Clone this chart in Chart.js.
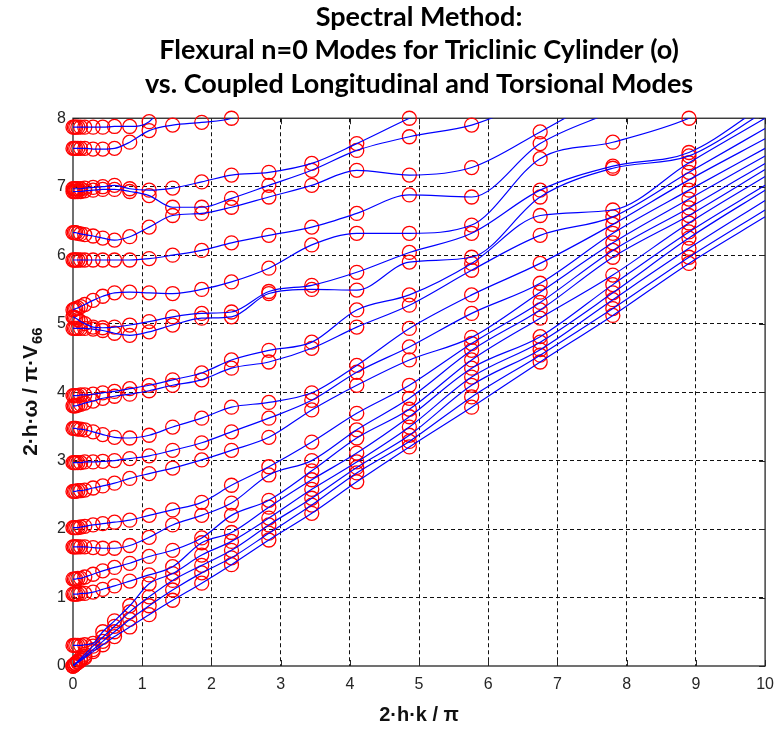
<!DOCTYPE html>
<html><head><meta charset="utf-8">
<script src="https://cdn.jsdelivr.net/npm/chart.js@4.4.1/dist/chart.umd.min.js"></script>
<style>html,body{margin:0;padding:0;background:#fff}#wrap{width:783px;height:731px;position:relative}</style>
</head><body><div id="wrap"><canvas id="c" width="783" height="731"></canvas></div>
<script>
// wavenumber samples (2hk/pi) at which the modes were read
const K = [0, 0.02, 0.04, 0.07, 0.11, 0.17, 0.29, 0.43, 0.6, 0.82, 1.1, 1.44, 1.86, 2.29, 2.83, 3.45, 4.1, 4.86, 5.76, 6.75, 7.8, 8.9, 10];
// branch frequencies (2h omega / pi V66), sorted branches, null after leaving the plot
const b1  = [0, 0.015, 0.03, 0.05, 0.08, 0.12, 0.21, 0.31, 0.43, 0.57, 0.75, 0.96, 1.21, 1.48, 1.84, 2.23, 2.69, 3.2, 3.78, 4.44, 5.12, 5.88, 6.56];
const b2  = [0, 0.017, 0.034, 0.06, 0.09, 0.14, 0.24, 0.36, 0.5, 0.68, 0.88, 1.11, 1.36, 1.58, 1.94, 2.35, 2.82, 3.28, 3.93, 4.54, 5.22, 5.97, 6.66];
const b3  = [0, 0.02, 0.04, 0.07, 0.11, 0.17, 0.29, 0.42, 0.58, 0.79, 1.01, 1.25, 1.47, 1.69, 2.06, 2.45, 2.9, 3.37, 4.1, 4.62, 5.35, 6.1, 6.8];
const b4  = [0.3, 0.3, 0.3, 0.3, 0.3, 0.31, 0.33, 0.5, 0.66, 0.88, 1.2, 1.35, 1.62, 1.82, 2.16, 2.58, 2.98, 3.49, 4.22, 4.73, 5.45, 6.25, 6.95];
const b5  = [1.05, 1.05, 1.05, 1.05, 1.06, 1.06, 1.08, 1.12, 1.17, 1.24, 1.33, 1.45, 1.8, 1.95, 2.32, 2.72, 3.11, 3.64, 4.35, 4.81, 5.57, 6.34, 7.02];
const b6  = [1.27, 1.27, 1.27, 1.28, 1.28, 1.3, 1.34, 1.39, 1.44, 1.5, 1.6, 1.69, 1.87, 2.2, 2.42, 2.85, 3.33, 3.75, 4.47, 5.08, 5.71, 6.47, 7.15];
const b7  = [1.74, 1.74, 1.74, 1.74, 1.74, 1.74, 1.73, 1.72, 1.72, 1.76, 1.88, 2.06, 2.2, 2.38, 2.79, 3.0, 3.45, 3.91, 4.61, 5.2, 5.97, 6.58, 7.25];
const b8  = [2.02, 2.02, 2.02, 2.02, 2.03, 2.04, 2.06, 2.08, 2.1, 2.13, 2.2, 2.28, 2.39, 2.64, 2.91, 3.27, 3.69, 4.1, 4.71, 5.31, 6.07, 6.69, 7.34];
const b9  = [2.55, 2.55, 2.55, 2.56, 2.56, 2.57, 2.6, 2.63, 2.67, 2.74, 2.81, 2.89, 3.01, 3.15, 3.34, 3.74, 4.1, 4.47, 4.8, 5.46, 6.18, 6.82, 7.45];
const b10 = [2.97, 2.97, 2.97, 2.97, 2.97, 2.98, 2.98, 2.99, 3.0, 3.03, 3.07, 3.15, 3.26, 3.42, 3.62, 3.88, 4.29, 4.66, 5.15, 5.59, 6.32, 6.95, 7.56];
const b11 = [3.47, 3.47, 3.47, 3.46, 3.46, 3.45, 3.42, 3.38, 3.34, 3.33, 3.37, 3.49, 3.62, 3.78, 3.85, 3.99, 4.39, 4.93, 5.42, 5.88, 6.45, 7.1, 7.7];
const b12 = [3.8, 3.8, 3.8, 3.81, 3.82, 3.84, 3.87, 3.91, 3.94, 3.97, 4.02, 4.1, 4.18, 4.35, 4.44, 4.64, 4.95, 5.27, 5.78, 6.29, 6.56, 7.21, 7.85];
const b13 = [3.95, 3.95, 3.95, 3.95, 3.96, 3.96, 3.97, 3.99, 4.01, 4.05, 4.1, 4.18, 4.28, 4.47, 4.61, 4.73, 5.2, 5.42, 5.88, 6.58, 6.66, 7.35, 8.0];
const b14 = [4.93, 4.93, 4.93, 4.93, 4.93, 4.93, 4.92, 4.9, 4.86, 4.83, 4.88, 4.98, 5.08, 5.1, 5.44, 5.5, 5.49, 5.9, 5.97, 6.85, 7.27, 7.45, 8.1];
const b15 = [5.1, 5.09, 5.08, 5.06, 5.03, 5.0, 4.95, 4.94, 4.95, 4.98, 5.03, 5.1, 5.15, 5.17, 5.47, 5.56, 5.75, 6.04, 6.32, 6.95, 7.3, 7.5, 8.2];
const b16 = [5.2, 5.21, 5.22, 5.23, 5.25, 5.28, 5.34, 5.4, 5.45, 5.46, 5.45, 5.44, 5.5, 5.61, 5.81, 6.15, 6.32, 6.32, 6.44, 7.41, 7.65, 8.0, 8.6];
const b17 = [5.93, 5.93, 5.93, 5.93, 5.93, 5.93, 5.93, 5.93, 5.93, 5.93, 5.95, 6.0, 6.07, 6.18, 6.29, 6.41, 6.61, 6.88, 6.85, 7.63, 8.1, null, null];
const b18 = [6.33, 6.33, 6.33, 6.32, 6.31, 6.3, 6.28, 6.25, 6.22, 6.27, 6.41, 6.58, 6.61, 6.7, 6.85, 7.02, 7.24, 7.17, 7.28, 7.8, 8.4, null, null];
const b19 = [6.93, 6.93, 6.93, 6.93, 6.93, 6.94, 6.95, 6.96, 6.96, 6.93, 6.87, 6.7, 6.7, 6.83, 7.02, 7.24, 7.53, 7.73, 7.9, 8.3, null, null, null];
const b20 = [6.97, 6.97, 6.97, 6.97, 6.97, 6.98, 6.99, 7.0, 7.02, 6.97, 6.95, 6.98, 7.07, 7.17, 7.21, 7.34, 7.63, 8.0, 8.4, null, null, null, null];
const b21 = [7.56, 7.56, 7.56, 7.56, 7.56, 7.56, 7.55, 7.55, 7.56, 7.65, 7.82, 7.9, 7.94, 8.0, 8.3, null, null, null, null, null, null, null, null];
const b22 = [7.87, 7.87, 7.87, 7.87, 7.87, 7.87, 7.87, 7.87, 7.88, 7.88, 7.95, 8.4, null, null, null, null, null, null, null, null, null, null, null];
const branches = [b1,b2,b3,b4,b5,b6,b7,b8,b9,b10,b11,b12,b13,b14,b15,b16,b17,b18,b19,b20,b21,b22];
// last K index that carries a flexural-mode marker
const lastMarkerIndex = 21;
const xTicks = [0,1,2,3,4,5,6,7,8,9,10];
const yTicks = [0,1,2,3,4,5,6,7,8];
const titleLines = ['Spectral Method:', 'Flexural n=0 Modes for Triclinic Cylinder (o)', 'vs. Coupled Longitudinal and Torsional Modes'];
const xTitle = '2\u00b7h\u00b7k / \u03c0';
const yTitleMain = '2\u00b7h\u00b7\u03c9 / \u03c0\u00b7V';
const yTitleSub = '66';

const lineSets = branches.map(arr => ({
  data: K.map((x,i)=>({x, y: arr[i]})).filter(p => p.y !== null),
  showLine: true, borderColor: '#0000ff', borderWidth: 1.2, pointRadius: 0,
  cubicInterpolationMode: 'monotone', fill: false
}));
const markerSets = branches.map(arr => ({
  data: K.map((x,i)=>({x, y: arr[i], i})).filter(p => p.y !== null && p.i <= lastMarkerIndex && p.y <= 8.02),
  showLine: false, pointRadius: 7, pointBorderWidth: 1.3, pointBorderColor: '#ff0000',
  pointBackgroundColor: 'rgba(0,0,0,0)', clip: false
}));

const frame = {
  id: 'frame',
  beforeDatasetsDraw(chart) {
    const {ctx, chartArea: a, scales: {x, y}} = chart;
    ctx.save();
    ctx.setLineDash([]);
    ctx.strokeStyle = '#262626';
    ctx.lineWidth = 1;
    ctx.beginPath();
    xTicks.forEach(v => {
      const px = Math.round(x.getPixelForValue(v)) + 0.5;
      ctx.moveTo(px, a.bottom); ctx.lineTo(px, a.bottom - 6);
      ctx.moveTo(px, a.top); ctx.lineTo(px, a.top + 6);
    });
    yTicks.forEach(v => {
      const py = Math.round(y.getPixelForValue(v)) + 0.5;
      ctx.moveTo(a.left, py); ctx.lineTo(a.left + 6, py);
      ctx.moveTo(a.right, py); ctx.lineTo(a.right - 6, py);
    });
    ctx.stroke();
    ctx.lineWidth = 1.3;
    ctx.strokeRect(a.left, a.top, a.right - a.left, a.bottom - a.top);
    ctx.restore();
  },
  afterDraw(chart) {
    // y-axis title with a true subscript
    const {ctx, chartArea: a} = chart;
    ctx.save();
    ctx.translate(31, (a.top + a.bottom) / 2);
    ctx.rotate(-Math.PI / 2);
    ctx.fillStyle = '#111';
    ctx.textBaseline = 'middle';
    ctx.textAlign = 'left';
    const mainFont = 'bold 21px "Liberation Sans"';
    const subFont = 'bold 15px "Liberation Sans"';
    ctx.font = mainFont; const w1 = ctx.measureText(yTitleMain).width;
    ctx.font = subFont; const w2 = ctx.measureText(yTitleSub).width;
    const start = -(w1 + w2) / 2;
    ctx.font = mainFont; ctx.fillText(yTitleMain, start, 0);
    ctx.font = subFont; ctx.fillText(yTitleSub, start + w1 + 1, 7);
    ctx.restore();
  }
};

const gridColor = (max) => (c) => (c.tick && (c.tick.value === 0 || c.tick.value === max)) ? 'rgba(0,0,0,0)' : '#111';

new Chart(document.getElementById('c'), {
  type: 'scatter',
  data: { datasets: [...lineSets, ...markerSets] },
  options: {
    responsive: false, animation: false, devicePixelRatio: 1,
    layout: { padding: { left: 0, right: 15, top: 0, bottom: 0 } },
    plugins: {
      legend: { display: false }, tooltip: { enabled: false },
      title: {
        display: true, text: titleLines, fullSize: false, color: '#000',
        font: { family: 'Lato', size: 27, weight: 'bold', lineHeight: 1.25 },
        padding: { top: 0, bottom: 17 }
      }
    },
    scales: {
      x: {
        type: 'linear', min: 0, max: 10,
        afterFit: s => { s.height = 65; },
        afterBuildTicks: s => { s.ticks = xTicks.map(v => ({value: v})); },
        ticks: { color: '#262626', padding: 9, font: { family: 'Liberation Sans', size: 16 }, maxRotation: 0 },
        grid: { color: gridColor(10), lineWidth: 1, drawTicks: false },
        border: { display: false, dash: [4, 3] },
        title: { display: true, text: xTitle, color: '#111', font: { family: 'Liberation Sans', size: 20, weight: 'bold' }, padding: { top: 0, bottom: 4 } }
      },
      y: {
        type: 'linear', min: 0, max: 8,
        afterFit: s => { s.width = 73; },
        afterBuildTicks: s => { s.ticks = yTicks.map(v => ({value: v})); },
        ticks: { color: '#262626', padding: 7, font: { family: 'Liberation Sans', size: 16 } },
        grid: { color: gridColor(8), lineWidth: 1, drawTicks: false },
        border: { display: false, dash: [4, 3] },
        title: { display: false }
      }
    }
  },
  plugins: [frame]
});
</script></body></html>
